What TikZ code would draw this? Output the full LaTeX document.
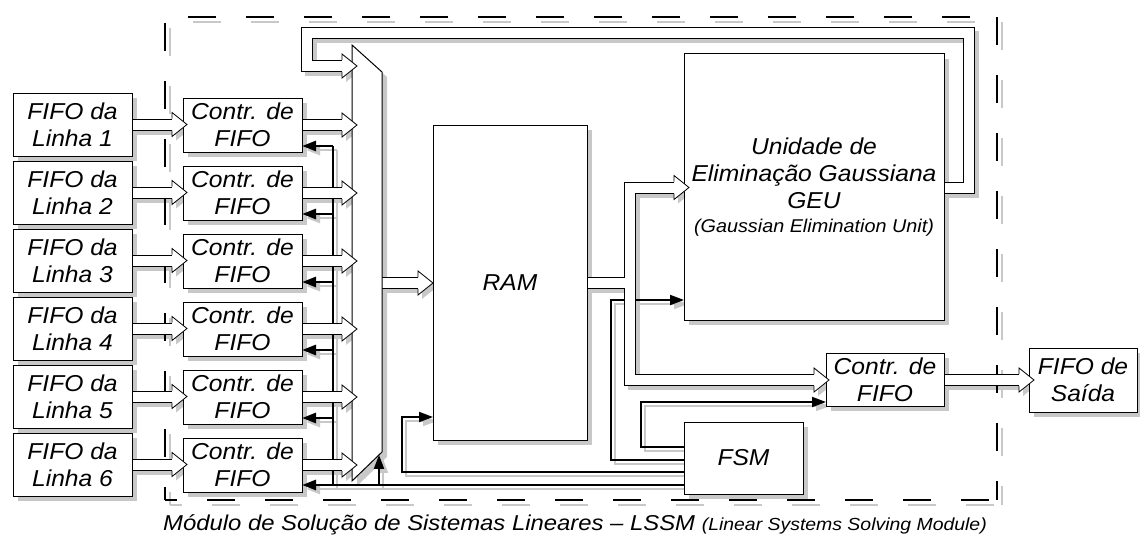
\documentclass[tikz,border=0pt]{standalone}
\usepackage{fontspec}
\setmainfont{Liberation Sans}[FakeStretch=1.07]
\newfontfamily\capfont{Liberation Sans}[FakeStretch=1.11]
\usetikzlibrary{arrows.meta,calc}
\pgfdeclarelayer{shadow}
\pgfdeclarelayer{ctl}
\pgfdeclarelayer{pipeout}
\pgfdeclarelayer{pipein}
\pgfdeclarelayer{heads}
\pgfsetlayers{shadow,ctl,pipeout,pipein,main,heads}
\definecolor{shc}{RGB}{200,200,200}
\tikzset{
  blk/.style={draw=black, line width=1pt, fill=white, inner sep=0pt, outer sep=0pt,
    align=center, font=\fontsize{23}{27}\selectfont\itshape},
  ctlline/.style={draw=black, line width=1.9pt, line join=miter},
  bus/.style={line width=2.8pt},
  arr/.style={-{Triangle[length=14pt,width=10pt]}},
  sh/.style={draw=shc, transform canvas={shift={(4pt,-4pt)}}},
  border/.style={line width=2.8pt, dash pattern=on 28pt off 30pt},
}
% box: name, x1, y1, x2, y2, text
\newcommand\mybox[6]{%
  \node[blk, minimum width={(#4-#2)*1pt}, minimum height={(#5-#3)*1pt}] (#1) at ({(#2+#4)/2},{(#3+#5)/2}) {#6};
  \begin{pgfonlayer}{shadow}\fill[shc] ([shift={(5,5)}]#1.north west) rectangle ([shift={(5,5)}]#1.south east);\end{pgfonlayer}}
% control line with shadow
\newcommand\ctrlline[2][]{%
  \begin{pgfonlayer}{shadow}\draw[ctlline,#1,sh] #2;\end{pgfonlayer}
  \begin{pgfonlayer}{ctl}\draw[ctlline,#1] #2;\end{pgfonlayer}}
% hollow (pipe) arrow: path up to before tip, tip coordinate
\newcommand\hpipe[2]{%
  \begin{pgfonlayer}{shadow}
    \draw[shc, line width=12pt, line join=miter, shorten >=14pt, transform canvas={shift={(4pt,-4pt)}}] #1 -- #2;
    \fill[shc, transform canvas={shift={(4pt,-4pt)}}] #2 ++(-15,-12) -- #2 -- ++(-15,12) -- cycle;
  \end{pgfonlayer}
  \begin{pgfonlayer}{pipeout}\draw[black, line width=12pt, line join=miter, shorten >=14pt] #1 -- #2;\end{pgfonlayer}
  \begin{pgfonlayer}{pipein}\draw[white, line width=10pt, line join=miter, shorten >=14pt] #1 -- #2;\end{pgfonlayer}
  \begin{pgfonlayer}{heads}
    \filldraw[fill=white, draw=black, line width=0.8pt, line join=miter] #2 ++(-15,-6) -- ++(0,-6) -- #2 -- ++(-15,12) -- ++(0,-6);
  \end{pgfonlayer}}
\begin{document}
\begin{tikzpicture}[x=1pt,y=-1pt]
\useasboundingbox (0,0) rectangle (1140,535);

% dashed module border
\begin{pgfonlayer}{shadow}
  \draw[border, draw=shc, dash phase=35pt] (170,22) -- (1002,22);
  \draw[border, draw=shc] (1002,22) -- (1002,505);
  \draw[border, draw=shc] (170,28) -- (170,505);
  \draw[border, draw=shc, dash phase=16pt] (170,505) -- (1002,505);
\end{pgfonlayer}
\begin{pgfonlayer}{ctl}
  \draw[border, dash phase=35pt] (165,17) -- (997,17);
  \draw[border] (997,17) -- (997,500);
  \draw[border] (165,23) -- (165,500);
  \draw[border, dash phase=16pt] (165,500) -- (997,500);
\end{pgfonlayer}

% input FIFOs and controllers
\foreach \k in {1,...,6}{
  \pgfmathsetmacro\ya{93+68*(\k-1)}
  \pgfmathsetmacro\yb{156+68*(\k-1)}
  \pgfmathsetmacro\yc{98+68*(\k-1)}
  \pgfmathsetmacro\yd{152+68*(\k-1)}
  \mybox{fifo\k}{13}{\ya}{132}{\yb}{FIFO da\\Linha \k}
  \mybox{ctr\k}{183}{\yc}{302}{\yd}{Contr. de\\FIFO}
}

% multiplexer
\coordinate (m1) at (352,45);
\coordinate (m2) at (382,72);
\coordinate (m3) at (382,452);
\coordinate (m4) at (352,481);
\coordinate (mb) at ($(m4)!0.9!(m3)$);
\begin{pgfonlayer}{shadow}
  \fill[shc] ([shift={(5,5)}]m1) -- ([shift={(5,5)}]m2) -- ([shift={(5,5)}]m3) -- ([shift={(5,5)}]m4) -- cycle;
\end{pgfonlayer}
\filldraw[fill=white, draw=black, line width=1pt] (m1) -- (m2) -- (m3) -- (m4) -- cycle;

% main blocks
\mybox{ram}{433}{125}{587}{440}{RAM}
\mybox{geu}{684}{54}{944}{320}{Unidade de\\Eliminação Gaussiana\\GEU\\[-3pt]{\fontsize{18.5}{22}\selectfont(Gaussian Elimination Unit)}}
\mybox{ctro}{826}{353}{944}{406}{Contr. de\\FIFO}
\mybox{fsaida}{1029}{348}{1137}{412}{FIFO de\\Saída}
\mybox{fsm}{684}{422}{803}{494}{FSM}

% control lines from the FSM
\foreach \k in {1,...,5}{
  \ctrlline[bus,arr]{([shift={(31,-6)}]ctr\k.south east) -- ([shift={(0,-6)}]ctr\k.south east)}
}
\ctrlline[bus]{([shift={(31,-6)}]ctr1.south east) -- ([shift={(31,-6)}]ctr6.south east)}
\ctrlline[bus,arr]{(fsm.west |- 0,485) -- (ctr6.east |- 0,485)}
\ctrlline[arr]{(mb |- 0,485) -- (mb)}
\ctrlline[arr]{(fsm.west |- 0,460) -| (611,300) -- (geu.west |- 0,300)}
\ctrlline[arr]{(fsm.west |- 0,447) -| (641,402) -- (ctro.west |- 0,402)}
\ctrlline[arr]{(fsm.west |- 0,472) -| (402,417) -- (ram.west |- 0,417)}

% data paths (hollow arrows)
\foreach \k in {1,...,6}{
  \hpipe{(fifo\k.east)}{($(fifo\k.east -| ctr\k.west)+(4,0)$)}
  \hpipe{(ctr\k.east)}{($(ctr\k.east -| m1)+(5,0)$)}
}
\hpipe{(m2 |- 0,283)}{(ram.west |- 0,283)}
\hpipe{(ram.east |- 0,282.5) -- (630,282.5) -- (630,187.5)}{($(geu.west |- 0,187.5)+(5,0)$)}
\hpipe{(630,282.5) -- (630,380)}{($(ctro.west |- 0,380)+(3,0)$)}
\hpipe{(ctro.east |- 0,380)}{($(fsaida.west |- 0,380)+(5,0)$)}
\hpipe{(geu.east |- 0,187.5) -- (968.5,187.5) -- (968.5,33) -- (306.5,33) -- (306.5,66)}{($(m1 |- 0,66)+(5,0)$)}

% caption
\node[anchor=base, font=\capfont\itshape\fontsize{21.5}{24}\selectfont] (cap) at (575,530)
  {Módulo de Solução de Sistemas Lineares – LSSM {\fontsize{17.5}{20}\selectfont(Linear Systems Solving Module)}};
\end{tikzpicture}
\end{document}
